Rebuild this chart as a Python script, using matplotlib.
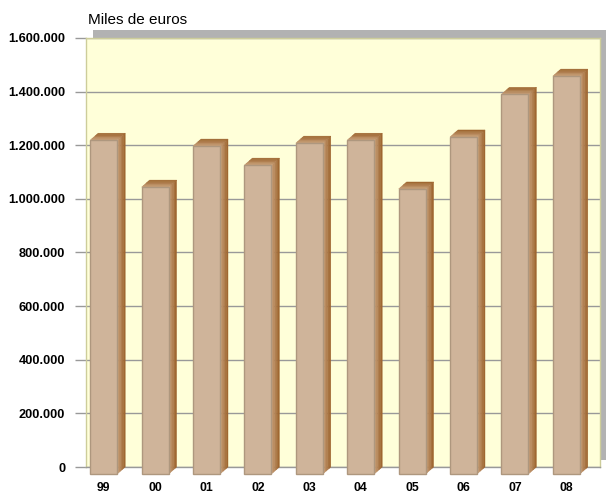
import matplotlib
matplotlib.use("Agg")
import matplotlib.pyplot as plt
import numpy as np
from matplotlib.patches import Rectangle, Polygon
from matplotlib.colors import to_rgb

years = ["99", "00", "01", "02", "03", "04", "05", "06", "07", "08"]
values = [1245000, 1070000, 1223000, 1152000, 1234000, 1245000, 1063000, 1257000, 1416000, 1484000]
yticks = [0, 200000, 400000, 600000, 800000, 1000000, 1200000, 1400000, 1600000]
ytick_labels = ["0", "200.000", "400.000", "600.000", "800.000", "1.000.000",
                "1.200.000", "1.400.000", "1.600.000"]

W, H = 606, 495
fig = plt.figure(figsize=(W / 100, H / 100), dpi=100)
fig.patch.set_facecolor("white")

# plot area in pixels
L, R, T, B = 86, 600, 38, 467
ax = fig.add_axes([L / W, 1 - B / H, (R - L) / W, (B - T) / H])
ax.set_facecolor("#FFFFD9")

n = len(years)
ax.set_xlim(-0.5, n - 0.5)
ax.set_ylim(0, 1600000)

# 3D depth offset (pixels -> data units)
px_x = (R - L) / n
px_y = (B - T) / 1600000
dx = 8 / px_x
dy = 7 / px_y
w = 27 / px_x

front_col = "#CFB49A"
edge_col = "#AE977E"
light = np.array(to_rgb("#C9A27C"))
dark = np.array(to_rgb("#9A6029"))
nstr = 5

for i, v in enumerate(values):
    xl, xr = i - w / 2, i + w / 2
    for k in range(nstr):
        f0, f1 = k / nstr, (k + 1) / nstr
        c = light + (dark - light) * ((k + 0.5) / nstr)
        pts = [(xr - dx + dx * f0, -dy + dy * f0), (xr - dx + dx * f1, -dy + dy * f1),
               (xr - dx + dx * f1, v - dy + dy * f1), (xr - dx + dx * f0, v - dy + dy * f0)]
        ax.add_patch(Polygon(pts, closed=True, facecolor=c, edgecolor=c, lw=0.3,
                             clip_on=False, zorder=3))
    for k in range(nstr):
        f0, f1 = k / nstr, (k + 1) / nstr
        c = light + (dark - light) * ((k + 0.5) / nstr)
        pts = [(xl - dx + dx * f0, v - dy + dy * f0), (xr - dx + dx * f0, v - dy + dy * f0),
               (xr - dx + dx * f1, v - dy + dy * f1), (xl - dx + dx * f1, v - dy + dy * f1)]
        ax.add_patch(Polygon(pts, closed=True, facecolor=c, edgecolor=c, lw=0.3,
                             clip_on=False, zorder=3))
    ax.add_patch(Rectangle((xl - dx, -dy), w, v, facecolor=front_col, edgecolor=edge_col,
                           lw=1.0, clip_on=False, zorder=4))

ax.set_yticks(yticks)
ax.set_yticklabels(ytick_labels, fontsize=9.2, fontweight="bold", family="Liberation Sans")
ax.tick_params(axis="y", length=8, width=1, color="#999999", pad=7)
ax.set_xticks(np.arange(n) - dx)
ax.set_xticklabels(years, fontsize=8.8, fontweight="bold", family="Liberation Sans")
ax.tick_params(axis="x", length=0, pad=11)

ax.set_axisbelow(True)
ax.grid(axis="y", color="#999999", lw=1)
ax.grid(axis="x", visible=False)

for s in ["left", "top", "right"]:
    ax.spines[s].set_color("#CDCD9A")
    ax.spines[s].set_linewidth(1)
ax.spines["bottom"].set_color("#999999")
ax.spines["bottom"].set_linewidth(1)

fig.patches.append(Rectangle((93 / W, 1 - 460 / H), (606 - 93) / W, (460 - 30) / H,
                             transform=fig.transFigure, facecolor="#B2B2B2",
                             edgecolor="none", zorder=-1))

fig.text(88 / W, 1 - 20 / H, "Miles de euros", fontsize=11, va="center", ha="left",
         family="Liberation Sans")

fig.savefig("out.png", dpi=100)
